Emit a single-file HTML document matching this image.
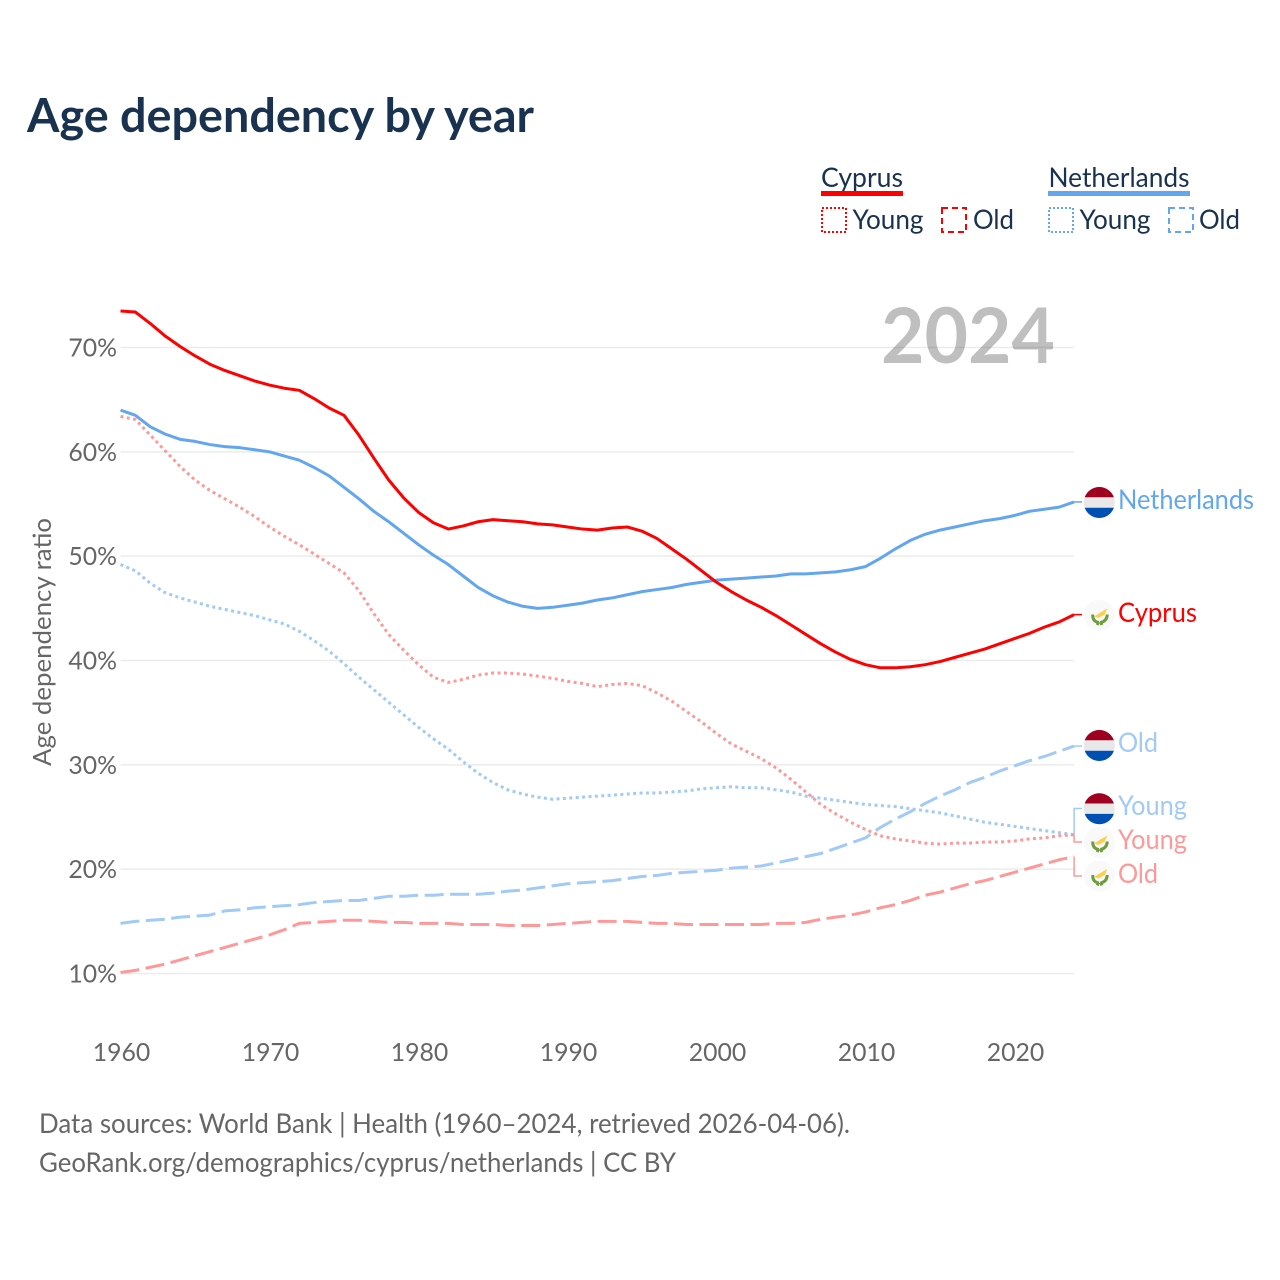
<!DOCTYPE html>
<html lang="en">
<head>
<meta charset="utf-8">
<title>Age dependency by year</title>
<style>
html,body{margin:0;padding:0;background:#fff;}
svg{display:block;}
text{font-family:"Lato","Carlito","Liberation Sans",sans-serif;}
</style>
</head>
<body>
<svg id="chart" xmlns="http://www.w3.org/2000/svg" width="1280" height="1280" viewBox="0 0 1280 1280">
  <text x="27" y="132" font-size="47" font-weight="700" fill="#19324f" textLength="507" lengthAdjust="spacingAndGlyphs">Age dependency by year</text>

  <g font-size="27" fill="#19324f">
    <text x="821" y="187" textLength="82" lengthAdjust="spacingAndGlyphs">Cyprus</text>
    <rect x="821" y="191" width="82" height="5" fill="#ff0000"/>
    <rect x="822" y="208" width="24" height="24" fill="none" stroke="#ff0000" stroke-width="2" stroke-dasharray="2 2"/>
    <text x="852.5" y="229" textLength="71" lengthAdjust="spacingAndGlyphs">Young</text>
    <rect x="942" y="208" width="24" height="24" fill="none" stroke="#ff0000" stroke-width="2" stroke-dasharray="6 4"/>
    <text x="973" y="229" textLength="41" lengthAdjust="spacingAndGlyphs">Old</text>

    <text x="1048.5" y="187" textLength="141" lengthAdjust="spacingAndGlyphs">Netherlands</text>
    <rect x="1048" y="191" width="142" height="5" fill="#63a6f0"/>
    <rect x="1049" y="208" width="24" height="24" fill="none" stroke="#63a6f0" stroke-width="2" stroke-dasharray="2 2"/>
    <text x="1079.5" y="229" textLength="71" lengthAdjust="spacingAndGlyphs">Young</text>
    <rect x="1169" y="208" width="24" height="24" fill="none" stroke="#63a6f0" stroke-width="2" stroke-dasharray="6 4"/>
    <text x="1199" y="229" textLength="41" lengthAdjust="spacingAndGlyphs">Old</text>
  </g>

  <g id="grid"></g>
  <g id="y-ticks"></g>
  <g id="x-ticks"></g>
  <text transform="translate(51,642) rotate(-90)" text-anchor="middle" font-size="25.5" fill="#666" textLength="248" lengthAdjust="spacingAndGlyphs">Age dependency ratio</text>

  <g id="series"></g>

  <text x="881" y="363" font-size="77" font-weight="700" fill="#000" fill-opacity="0.25" textLength="174" lengthAdjust="spacingAndGlyphs">2024</text>

  <g id="end-labels"></g>

  <text x="39" y="1133" font-size="27" fill="#666" textLength="811" lengthAdjust="spacingAndGlyphs">Data sources: World Bank | Health (1960–2024, retrieved 2026-04-06).</text>
  <text x="39" y="1172" font-size="27" fill="#666" textLength="637" lengthAdjust="spacingAndGlyphs">GeoRank.org/demographics/cyprus/netherlands | CC BY</text>
</svg>
<script>
const startYear = 1960;
const xTickYears = [1960, 1970, 1980, 1990, 2000, 2010, 2020];
const yTickValues = [10, 20, 30, 40, 50, 60, 70];
const cyprusTotal = [73.5,73.4,72.3,71.1,70.1,69.2,68.4,67.8,67.3,66.8,66.4,66.1,65.9,65.1,64.2,63.5,61.6,59.4,57.3,55.6,54.2,53.2,52.6,52.9,53.3,53.5,53.4,53.3,53.1,53.0,52.8,52.6,52.5,52.7,52.8,52.4,51.7,50.7,49.7,48.6,47.5,46.6,45.8,45.1,44.3,43.4,42.5,41.6,40.8,40.1,39.6,39.3,39.3,39.4,39.6,39.9,40.3,40.7,41.1,41.6,42.1,42.6,43.2,43.7,44.4];
const netherlandsTotal = [64.0,63.5,62.4,61.7,61.2,61.0,60.7,60.5,60.4,60.2,60.0,59.6,59.2,58.5,57.7,56.6,55.5,54.3,53.3,52.2,51.1,50.1,49.2,48.1,47.0,46.2,45.6,45.2,45.0,45.1,45.3,45.5,45.8,46.0,46.3,46.6,46.8,47.0,47.3,47.5,47.7,47.8,47.9,48.0,48.1,48.3,48.3,48.4,48.5,48.7,49.0,49.8,50.7,51.5,52.1,52.5,52.8,53.1,53.4,53.6,53.9,54.3,54.5,54.7,55.2];
const cyprusYoung = [63.4,63.1,61.6,60.1,58.6,57.3,56.3,55.5,54.7,53.8,52.8,51.9,51.1,50.2,49.3,48.4,46.7,44.5,42.5,41.0,39.6,38.4,37.9,38.2,38.6,38.8,38.8,38.7,38.5,38.3,38.0,37.8,37.5,37.7,37.8,37.6,36.9,36.1,35.1,34.1,33.0,32.0,31.3,30.6,29.7,28.6,27.4,26.2,25.3,24.5,23.8,23.2,22.9,22.7,22.5,22.4,22.5,22.5,22.6,22.6,22.7,22.9,23.0,23.2,23.3];
const netherlandsYoung = [49.2,48.6,47.4,46.5,46.0,45.6,45.2,44.9,44.6,44.3,43.9,43.5,42.8,41.9,40.9,39.7,38.4,37.2,36.0,34.8,33.6,32.5,31.5,30.3,29.2,28.3,27.6,27.2,26.9,26.7,26.8,26.9,27.0,27.1,27.2,27.3,27.3,27.4,27.5,27.7,27.8,27.9,27.8,27.8,27.6,27.4,27.0,26.8,26.6,26.4,26.2,26.1,26.0,25.8,25.6,25.4,25.1,24.8,24.5,24.3,24.1,23.9,23.7,23.5,23.3];
const netherlandsOld = [14.8,15.0,15.1,15.2,15.4,15.5,15.6,16.0,16.1,16.3,16.4,16.5,16.6,16.8,16.9,17.0,17.0,17.2,17.4,17.4,17.5,17.5,17.6,17.6,17.6,17.7,17.9,18.0,18.2,18.4,18.6,18.7,18.8,18.9,19.1,19.3,19.4,19.6,19.7,19.8,19.9,20.1,20.2,20.3,20.6,20.9,21.2,21.5,22.0,22.5,23.0,24.0,24.8,25.5,26.3,27.0,27.6,28.3,28.8,29.4,29.9,30.4,30.8,31.3,31.8];
const cyprusOld = [10.1,10.3,10.6,10.9,11.3,11.7,12.1,12.5,12.9,13.3,13.7,14.2,14.8,14.9,15.0,15.1,15.1,15.0,14.9,14.9,14.8,14.8,14.8,14.7,14.7,14.7,14.6,14.6,14.6,14.7,14.8,14.9,15.0,15.0,15.0,14.9,14.8,14.8,14.7,14.7,14.7,14.7,14.7,14.7,14.8,14.8,14.9,15.2,15.4,15.6,15.9,16.3,16.6,17.0,17.5,17.8,18.2,18.6,18.9,19.3,19.7,20.1,20.5,20.9,21.2];

const NS = 'http://www.w3.org/2000/svg';
function xScale(year) { return 120.5 + (year - 1960) * 14.9; }
function yScale(v) { return 973.5 - (v - 10) * 10.433; }
function mk(tag, attrs, parent) {
  const el = document.createElementNS(NS, tag);
  for (const k in attrs) el.setAttribute(k, attrs[k]);
  parent.appendChild(el);
  return el;
}
function seriesPath(values) {
  return values.map((v, i) => (i ? 'L' : 'M') + xScale(startYear + i).toFixed(2) + ' ' + yScale(v).toFixed(2)).join(' ');
}

const grid = document.getElementById('grid');
const yTicks = document.getElementById('y-ticks');
const xTicks = document.getElementById('x-ticks');
yTickValues.forEach(v => {
  const line = mk('line', {x1: xScale(1960), x2: xScale(2024), y1: yScale(v), y2: yScale(v), stroke: '#ececec', 'stroke-width': 1.5}, grid);
  
  
  const t = mk('text', {x: 117, y: yScale(v) + 9, 'text-anchor': 'end', 'font-size': 24.8, fill: '#666'}, yTicks);
  
  
  t.textContent = v + '%';
});
xTickYears.forEach(y => {
  const t = mk('text', {x: xScale(y) + 1, y: 1061, 'text-anchor': 'middle', 'font-size': 24.8, fill: '#666'}, xTicks);
  
  
  t.textContent = y;
});

const series = document.getElementById('series');
function drawLine(name, values, color, width, dash) {
  const attrs = {d: seriesPath(values), fill: 'none', stroke: color, 'stroke-width': width, 'stroke-linejoin': 'round'};
  if (dash) attrs['stroke-dasharray'] = dash;
  const p = mk('path', attrs, series);
  
  
}
drawLine('line-netherlands-old', netherlandsOld, '#a1caf6', 3, '19 6.5');
drawLine('line-cyprus-old', cyprusOld, '#ff9999', 3, '19 6.5');
drawLine('line-netherlands-young', netherlandsYoung, '#a1caf6', 3, '3 3.4');
drawLine('line-cyprus-young', cyprusYoung, '#ff9999', 3, '3 3.4');
drawLine('line-netherlands-total', netherlandsTotal, '#63a6f0', 3);
drawLine('line-cyprus-total', cyprusTotal, '#ff0000', 3);

const labels = document.getElementById('end-labels');
function connector(d, color) {
  const p = mk('path', {d: d, fill: 'none', stroke: color, 'stroke-width': 1.5}, labels);
  
  
}
const endX = xScale(2024);
connector('M' + endX + ' ' + yScale(netherlandsTotal[64]) + 'H1082', '#63a6f0');
connector('M' + endX + ' ' + yScale(cyprusTotal[64]) + 'H1082', '#ff0000');
connector('M' + endX + ' ' + yScale(netherlandsOld[64]) + 'H1082', '#a1caf6');
connector('M' + endX + ' ' + yScale(netherlandsYoung[64]) + 'V808.5H1082', '#a1caf6');
connector('M' + endX + ' ' + yScale(cyprusYoung[64]) + 'V842H1082', '#ff9999');
connector('M' + endX + ' ' + yScale(cyprusOld[64]) + 'V876H1082', '#ff9999');

function flagNL(cy) {
  const g = mk('g', {}, labels);
  
  
  const r = 15.5, cx = 1099.3, s = 5.2;
  mk('circle', {cx: cx, cy: cy, r: r, fill: '#e8e8e8'}, g);
  const chord = Math.sqrt(r * r - s * s);
  mk('path', {d: `M${cx - chord} ${cy - s}A${r} ${r} 0 0 1 ${cx + chord} ${cy - s}Z`, fill: '#a00020'}, g);
  mk('path', {d: `M${cx - chord} ${cy + s}A${r} ${r} 0 0 0 ${cx + chord} ${cy + s}Z`, fill: '#0050b4'}, g);
}
function flagCY(cy) {
  const g = mk('g', {}, labels);
  
  
  const cx = 1099.3;
  mk('circle', {cx: cx, cy: cy, r: 15.5, fill: '#f9f9f9'}, g);
  mk('path', {d: `M${cx - 5} ${cy + 1}L${cx + 1} ${cy - 3}L${cx + 8} ${cy - 7}L${cx + 5.5} ${cy - 1}L${cx - 1} ${cy + 2.5}Z`, fill: '#fcd04a'}, g);
  mk('path', {d: `M${cx - 6.5} ${cy - 1}Q${cx - 7} ${cy + 6} ${cx - 0.5} ${cy + 7}M${cx + 8} ${cy - 1}Q${cx + 7.5} ${cy + 6} ${cx + 1} ${cy + 7}M${cx - 1} ${cy + 6.5}L${cx - 2} ${cy + 9.5}M${cx + 1.5} ${cy + 6.5}L${cx + 2.5} ${cy + 9.5}`, fill: 'none', stroke: '#6f9c3c', 'stroke-width': 3}, g);
}
function endText(name, text, y, color, len) {
  const t = mk('text', {x: 1118, y: y, 'font-size': 27, fill: color, textLength: len, lengthAdjust: 'spacingAndGlyphs'}, labels);
  
  
  t.textContent = text;
}
flagNL(502.5);  endText('end-label-netherlands', 'Netherlands', 509, '#63a6f0', 136);
flagCY(615.5);  endText('end-label-cyprus', 'Cyprus', 622, '#ff0000', 79);
flagNL(745.5);  endText('end-label-netherlands-old', 'Old', 752, '#a1caf6', 40);
flagNL(808.7);  endText('end-label-netherlands-young', 'Young', 815, '#a1caf6', 69);
flagCY(842.5);  endText('end-label-cyprus-young', 'Young', 849, '#ff9999', 69);
flagCY(876);    endText('end-label-cyprus-old', 'Old', 883, '#ff9999', 40);
</script>
</body>
</html>
